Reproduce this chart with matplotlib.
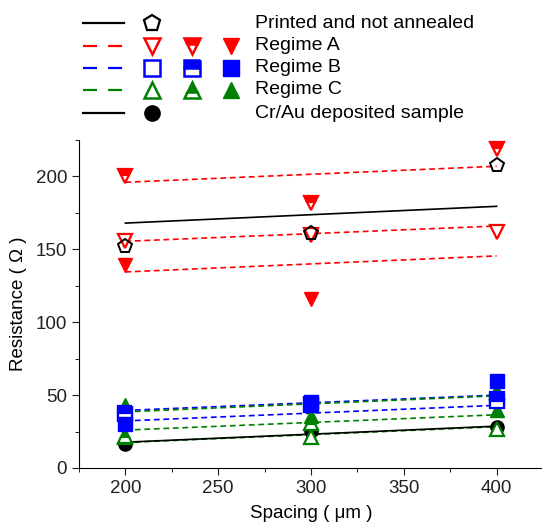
import numpy as np
import matplotlib
matplotlib.use("Agg")
import matplotlib.pyplot as plt
from matplotlib.ticker import MultipleLocator

plt.rcParams['font.family'] = ['Liberation Sans', 'DejaVu Sans']

# Spacing values (um)
spacing = [200, 300, 400]
fit_x = [200, 400]

# Printed and not annealed (open pentagons) + fit line end points
printed = [152, 161, 208]
printed_fit = [168, 179.5]

# Regime A: open / half-filled / filled down triangles
regA_open = [156, 160, 162]
regA_half = [200, 182, 219]
regA_fill = [139, 116, np.nan]
regA_fits = [[196, 207], [155.5, 166], [134.5, 145.5]]

# Regime B: open / half-filled / filled squares
regB_open = [37, 43, 47]
regB_half = [38, 44, 46]
regB_fill = [30, 45, 60]
regB_fits = [[39.5, 50], [32.3, 43]]

# Regime C: open / half-filled / filled up triangles
regC_open = [21, 21.5, 27]
regC_half = [22, 31, 52]
regC_fill = [43, 36, 40]
regC_fits = [[38.5, 49.5], [26, 36.5], [17.5, 28.3]]

# Cr/Au deposited sample
crau = [16.5, 25.5, 28]
crau_fit = [17.7, 28.7]

red, blue, green = '#ff0000', '#0000ff', '#008000'

fig = plt.figure(figsize=(5.42, 5.28), dpi=100)
ax = fig.add_axes([79 / 542, 60 / 528, 464 / 542, 328 / 528])

dash = (0, (3.5, 2.2))
# fit lines
for f in regA_fits:
    ax.plot(fit_x, f, color=red, ls=dash, lw=1.2, zorder=2)
for f in regB_fits:
    ax.plot(fit_x, f, color=blue, ls=dash, lw=1.2, zorder=2)
for f in regC_fits:
    ax.plot(fit_x, f, color=green, ls=dash, lw=1.2, zorder=2)
ax.plot(fit_x, printed_fit, color='black', lw=1.2, zorder=2)
ax.plot(fit_x, crau_fit, color='black', lw=1.2, zorder=2)

ms = 9.5
def pts(y, marker, color, fill):
    if fill == 'none':
        ax.plot(spacing, y, ls='none', marker=marker, ms=ms, mfc='white',
                mec=color, mew=1.6, zorder=3)
    elif fill == 'top':
        ax.plot(spacing, y, ls='none', marker=marker, ms=ms, mfc=color,
                mfcalt='white', fillstyle='top', mec=color, mew=1.6, zorder=3)
    else:
        ax.plot(spacing, y, ls='none', marker=marker, ms=ms, mfc=color,
                mec=color, mew=1.0, zorder=3)

pts(crau, 'o', 'black', 'full')
pts(regC_open, '^', green, 'none')
pts(regC_half, '^', green, 'top')
pts(regC_fill, '^', green, 'full')
pts(regB_open, 's', blue, 'none')
pts(regB_half, 's', blue, 'top')
pts(regB_fill, 's', blue, 'full')
pts(regA_open, 'v', red, 'none')
pts(regA_half, 'v', red, 'top')
pts(regA_fill, 'v', red, 'full')
ax.plot(spacing, printed, ls='none', marker='p', ms=ms + 1, mfc='none',
        mec='black', mew=1.4, zorder=4)

ax.set_xlim(175, 425)
ax.set_ylim(0, 225)
ax.xaxis.set_major_locator(MultipleLocator(50))
ax.xaxis.set_minor_locator(MultipleLocator(25))
ax.yaxis.set_major_locator(MultipleLocator(50))
ax.yaxis.set_minor_locator(MultipleLocator(25))
ax.tick_params(which='major', length=5, direction='out', labelsize=13.5,
               colors='#222222')
ax.tick_params(which='minor', length=3, direction='out')
for s in ['top', 'right']:
    ax.spines[s].set_visible(False)
ax.set_xlabel('Spacing ( \u03bcm )', fontsize=13.5, labelpad=6)
ax.set_ylabel('Resistance ( \u03a9 )', fontsize=13.5, labelpad=6)

# legend drawn in pixel coordinates
lg = fig.add_axes([0, 0, 1, 1], zorder=5)
lg.set_xlim(0, 542)
lg.set_ylim(528, 0)
lg.axis('off')

rows = [23, 46, 68, 90, 113]
labels = ['Printed and not annealed', 'Regime A', 'Regime B', 'Regime C',
          'Cr/Au deposited sample']
line_cols = ['black', red, blue, green, 'black']
line_ls = ['-', (0, (6.3, 5)), (0, (6.3, 5)), (0, (6.3, 5)), '-']
mcols = [152, 192, 231]
lms = 11
for i, y in enumerate(rows):
    lg.plot([83, 124], [y, y], color=line_cols[i], ls=line_ls[i], lw=1.6)
    lg.text(255, y, labels[i], fontsize=14, va='center', ha='left')

lg.plot(mcols[0], rows[0], marker='p', ms=lms + 1, mfc='none', mec='black', mew=1.6)
lg.plot(mcols[0], rows[4], marker='o', ms=lms, mfc='black', mec='black')
for y, mk, c in [(rows[1], 'v', red), (rows[2], 's', blue), (rows[3], '^', green)]:
    lg.plot(mcols[0], y, marker=mk, ms=lms, mfc='white', mec=c, mew=1.8)
    lg.plot(mcols[1], y, marker=mk, ms=lms, mfc=c, mfcalt='white',
            fillstyle='top', mec=c, mew=1.8)
    lg.plot(mcols[2], y, marker=mk, ms=lms, mfc=c, mec=c, mew=1.0)

fig.savefig('out.png', dpi=100)
